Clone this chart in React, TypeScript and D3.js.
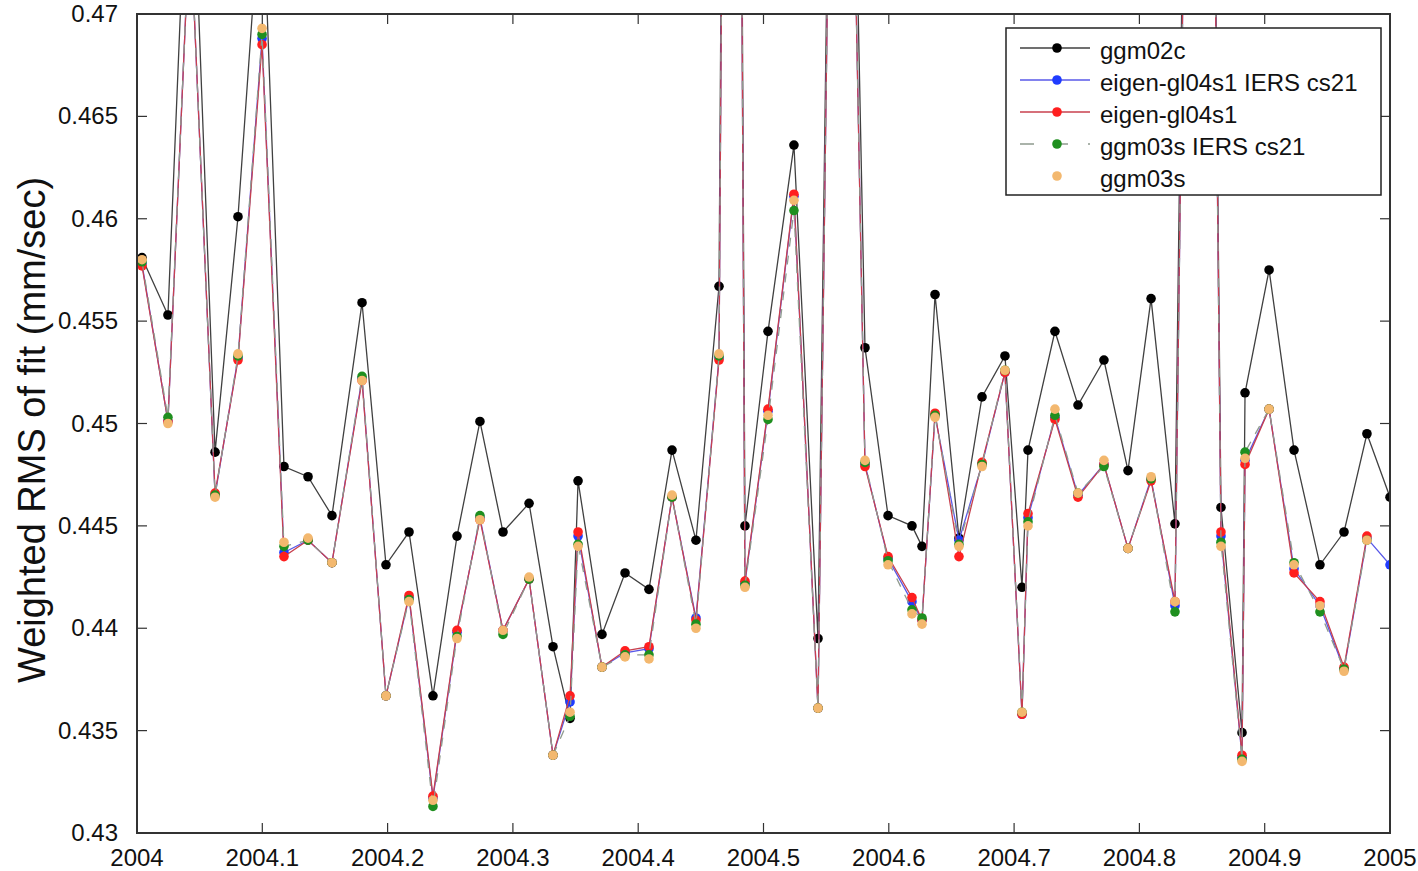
import React from "react";
import * as d3 from "d3";

// decimal-year dates of each fit arc
const dates = [
  2004.004, 2004.0247, 2004.0423, 2004.0623, 2004.0806, 2004.0998, 2004.1173, 2004.1365,
  2004.1556, 2004.1796, 2004.1987, 2004.2171, 2004.2362, 2004.2554, 2004.2737, 2004.2921,
  2004.3129, 2004.332, 2004.3456, 2004.352, 2004.3711, 2004.3895, 2004.4086, 2004.427,
  2004.4461, 2004.4645, 2004.4757, 2004.4852, 2004.5036, 2004.5243, 2004.5435, 2004.5603,
  2004.581, 2004.5994, 2004.6185, 2004.6265, 2004.6369, 2004.656, 2004.6744, 2004.6927,
  2004.7063, 2004.7111, 2004.7326, 2004.751, 2004.7717, 2004.7909, 2004.8093, 2004.8284,
  2004.8492, 2004.8651, 2004.8819, 2004.8843, 2004.9035, 2004.9234, 2004.9441, 2004.9633,
  2004.9816, 2005.0,
];

const ggm02c = [
  0.4581, 0.4553, 0.4815, 0.4486, 0.4601, 0.4768, 0.4479, 0.4474,
  0.4455, 0.4559, 0.4431, 0.4447, 0.4367, 0.4445, 0.4501, 0.4447,
  0.4461, 0.4391, 0.4356, 0.4472, 0.4397, 0.4427, 0.4419, 0.4487,
  0.4443, 0.4567, 0.56, 0.445, 0.4545, 0.4636, 0.4395, 0.5162,
  0.4537, 0.4455, 0.445, 0.444, 0.4563, 0.4444, 0.4513, 0.4533,
  0.442, 0.4487, 0.4545, 0.4509, 0.4531, 0.4477, 0.4561, 0.4451,
  0.5431, 0.4459, 0.4349, 0.4515, 0.4575, 0.4487, 0.4431, 0.4447,
  0.4495, 0.4464,
];

const eigenIers = [
  0.4578, 0.4501, 0.4748, 0.4465, 0.4532, 0.4688, 0.4437, 0.4443,
  0.4432, 0.4522, 0.4367, 0.4415, 0.4317, 0.4398, 0.4454, 0.4399,
  0.4424, 0.4338, 0.4364, 0.4445, 0.4381, 0.4388, 0.439, 0.4464,
  0.4405, 0.4532, 0.556, 0.4422, 0.4506, 0.4611, 0.4361, 0.514,
  0.448, 0.4434, 0.4413, 0.4404, 0.4504, 0.4443, 0.448, 0.4525,
  0.4358, 0.4454, 0.4503, 0.4465, 0.448, 0.4439, 0.4473, 0.4411,
  0.54, 0.4445, 0.4337, 0.4482, 0.4507, 0.4429, 0.4411, 0.438,
  0.4444, 0.4431,
];

const eigen = [
  0.4577, 0.4501, 0.4748, 0.4466, 0.4531, 0.4685, 0.4435, 0.4443,
  0.4432, 0.4521, 0.4367, 0.4416, 0.4318, 0.4399, 0.4453, 0.4399,
  0.4424, 0.4338, 0.4367, 0.4447, 0.4381, 0.4389, 0.4391, 0.4464,
  0.4404, 0.4531, 0.556, 0.4423, 0.4507, 0.4612, 0.4361, 0.514,
  0.4479, 0.4435, 0.4415, 0.4404, 0.4505, 0.4435, 0.4481, 0.4525,
  0.4358, 0.4456, 0.4502, 0.4464, 0.448, 0.4439, 0.4472, 0.4413,
  0.54, 0.4447, 0.4338, 0.448, 0.4507, 0.4427, 0.4413, 0.4381,
  0.4445, null,
];

const ggm03sIers = [
  0.4579, 0.4503, 0.4748, 0.4465, 0.4533, 0.469, 0.444, 0.4443,
  0.4432, 0.4523, 0.4367, 0.4414, 0.4313, 0.4396, 0.4455, 0.4397,
  0.4424, 0.4338, 0.4357, 0.4441, 0.4381, 0.4387, 0.4387, 0.4464,
  0.4402, 0.4533, 0.556, 0.4421, 0.4502, 0.4604, 0.4361, 0.514,
  0.4481, 0.4433, 0.4409, 0.4405, 0.4504, 0.4441, 0.448, 0.4526,
  0.4359, 0.4452, 0.4504, 0.4466, 0.4479, 0.4439, 0.4473, 0.4408,
  0.54, 0.4442, 0.4336, 0.4486, 0.4507, 0.4432, 0.4408, 0.438,
  0.4443, null,
];

const ggm03s = [
  0.458, 0.45, 0.4748, 0.4464, 0.4534, 0.4693, 0.4442, 0.4444,
  0.4432, 0.4521, 0.4367, 0.4413, 0.4316, 0.4395, 0.4453, 0.4399,
  0.4425, 0.4338, 0.4359, 0.444, 0.4381, 0.4386, 0.4385, 0.4465,
  0.44, 0.4534, 0.556, 0.442, 0.4504, 0.4609, 0.4361, 0.514,
  0.4482, 0.4431, 0.4407, 0.4402, 0.4503, 0.444, 0.4479, 0.4526,
  0.4359, 0.445, 0.4507, 0.4466, 0.4482, 0.4439, 0.4474, 0.4413,
  0.54, 0.444, 0.4335, 0.4483, 0.4507, 0.4431, 0.4411, 0.4379,
  0.4443, null,
];

const xTicks = [2004, 2004.1, 2004.2, 2004.3, 2004.4, 2004.5, 2004.6, 2004.7, 2004.8, 2004.9, 2005];
const xTickLabels = ["2004", "2004.1", "2004.2", "2004.3", "2004.4", "2004.5", "2004.6", "2004.7", "2004.8", "2004.9", "2005"];
const yTicks = [0.43, 0.435, 0.44, 0.445, 0.45, 0.455, 0.46, 0.465, 0.47];
const yTickLabels = ["0.43", "0.435", "0.44", "0.445", "0.45", "0.455", "0.46", "0.465", "0.47"];

const series = [
  { name: "ggm02c", values: ggm02c, line: "#404040", dot: "#000000", dash: null, showLine: true },
  { name: "eigen-gl04s1 IERS cs21", values: eigenIers, line: "#5858e8", dot: "#1f3cff", dash: null, showLine: true },
  { name: "eigen-gl04s1", values: eigen, line: "#c8404e", dot: "#ff1f1f", dash: null, showLine: true },
  { name: "ggm03s IERS cs21", values: ggm03sIers, line: "#8f9a8f", dot: "#1f8f1f", dash: "9,9", showLine: true },
  { name: "ggm03s", values: ggm03s, line: "none", dot: "#f3b86f", dash: null, showLine: false },
];

const W = 1418;
const H = 871;
const left = 137;
const right = 1390;
const top = 14;
const bottom = 833;
const font = "'Liberation Sans', Arial, Helvetica, sans-serif";

export default function App() {
  const x = d3.scaleLinear().domain([2004, 2005]).range([left, right]);
  const y = d3.scaleLinear().domain([0.43, 0.47]).range([bottom, top]);

  const lineGen = (vals: (number | null)[]) =>
    d3
      .line<number>()
      .defined((i) => vals[i] != null)
      .x((i) => x(dates[i]))
      .y((i) => y(vals[i] as number))(d3.range(dates.length)) || "";

  return (
    <div style={{ position: "absolute", left: 0, top: 0 }}>
      <svg width={W} height={H} style={{ display: "block", background: "#fff" }}>
        <defs>
          <clipPath id="plot">
            <rect x={left} y={top} width={right - left} height={bottom - top} />
          </clipPath>
        </defs>

        <g clipPath="url(#plot)">
          {series.map((s) => (
            <g key={s.name}>
              {s.showLine && (
                <path
                  d={lineGen(s.values)}
                  fill="none"
                  stroke={s.line}
                  strokeWidth={1.3}
                  strokeDasharray={s.dash || undefined}
                />
              )}
              {s.values.map((v, i) =>
                v == null ? null : (
                  <circle key={i} cx={x(dates[i])} cy={y(v)} r={4.8} fill={s.dot} />
                )
              )}
            </g>
          ))}
        </g>

        {/* frame */}
        <rect x={left} y={top} width={right - left} height={bottom - top} fill="none" stroke="#333" strokeWidth={2} />

        {/* ticks */}
        {xTicks.map((t, i) => (
          <g key={"x" + i}>
            <line x1={x(t)} x2={x(t)} y1={bottom} y2={bottom - 10} stroke="#333" strokeWidth={1.2} />
            <line x1={x(t)} x2={x(t)} y1={top} y2={top + 10} stroke="#333" strokeWidth={1.2} />
            <text x={x(t)} y={866} textAnchor="middle" fontFamily={font} fontSize={24} fill="#111">
              {xTickLabels[i]}
            </text>
          </g>
        ))}
        {yTicks.map((t, i) => (
          <g key={"y" + i}>
            <line x1={left} x2={left + 10} y1={y(t)} y2={y(t)} stroke="#333" strokeWidth={1.2} />
            <line x1={right} x2={right - 10} y1={y(t)} y2={y(t)} stroke="#333" strokeWidth={1.2} />
            <text x={118} y={y(t) + 8} textAnchor="end" fontFamily={font} fontSize={24} fill="#111">
              {yTickLabels[i]}
            </text>
          </g>
        ))}

        <text
          transform="translate(45,430) rotate(-90)"
          textAnchor="middle"
          fontFamily={font}
          fontSize={38}
          fill="#111"
        >
          Weighted RMS of fit (mm/sec)
        </text>

        {/* legend */}
        <g>
          <rect x={1006} y={28} width={375} height={167} fill="#fff" stroke="#222" strokeWidth={1.5} />
          {series.map((s, i) => {
            const ry = 48 + i * 32;
            return (
              <g key={"lg" + i}>
                {s.showLine && (
                  <line
                    x1={1020}
                    x2={1090}
                    y1={ry}
                    y2={ry}
                    stroke={s.line}
                    strokeWidth={1.3}
                    strokeDasharray={s.dash ? "14,20" : undefined}
                  />
                )}
                <circle cx={1057} cy={ry} r={4.8} fill={s.dot} />
                <text x={1100} y={ry + 11} fontFamily={font} fontSize={24} fill="#111">
                  {s.name}
                </text>
              </g>
            );
          })}
        </g>
      </svg>
    </div>
  );
}
